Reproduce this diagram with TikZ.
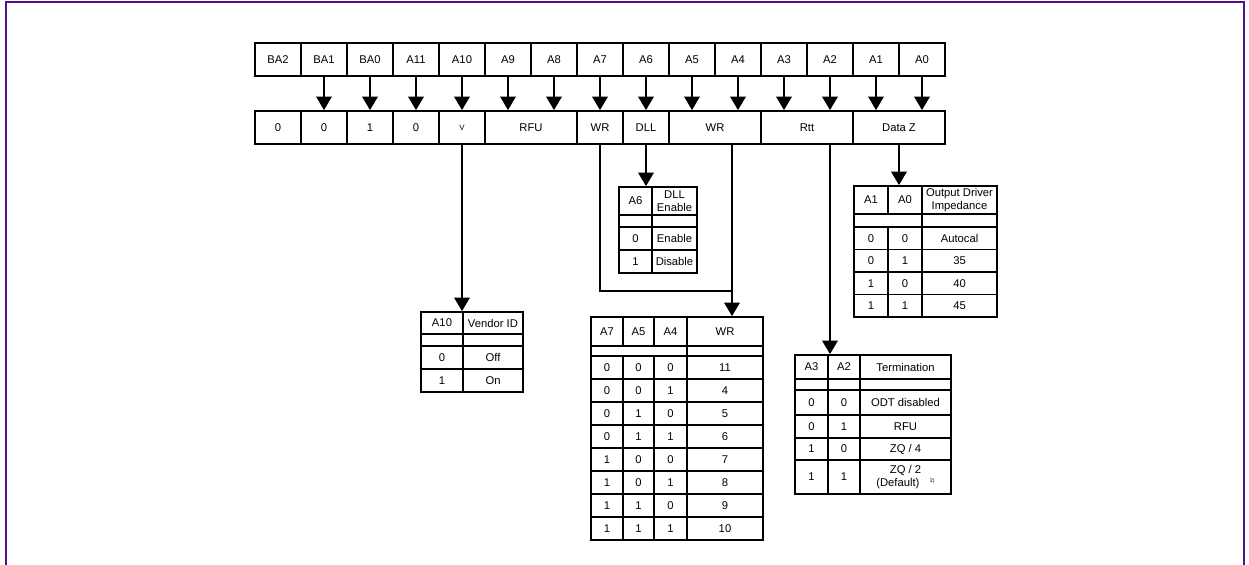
\documentclass[tikz,border=0pt]{standalone}
\usepackage{fontspec}
\setmainfont{Liberation Sans}
\usetikzlibrary{arrows.meta}
\definecolor{framepurple}{RGB}{84,16,140}

% one table cell from corner (x1,y1) to (x2,y2), in pixels
\newcommand{\tcell}[6]{%
\node[cell, minimum width={((#4)-(#2))*0.02cm}, minimum height={((#5)-(#3))*0.02cm}] (#1) at ({((#2)+(#4))/2},{((#3)+(#5))/2}) {#6};}

\begin{document}
\begin{tikzpicture}
[x=0.02cm,y=-0.02cm,line width=1pt,
cell/.style={draw,rectangle,inner sep=0pt,align=center,font=\fontsize{6.4}{7.4}\selectfont},
link/.style={line width=1pt},
arr/.style={line width=1pt,-{Triangle[width=0.31cm,length=0.27cm]}}]
\useasboundingbox (0,0) rectangle (1249,565);
\draw[framepurple,line width=1.2pt] (6,565) -- (6,2) -- (1244,2) -- (1244,565);

% address bits
\foreach \name/\lbl [count=\i from 0] in {ba2/BA2,ba1/BA1,ba0/BA0,a11/A11,a10/A10,a9/A9,a8/A8,a7/A7,a6/A6,a5/A5,a4/A4,a3/A3,a2/A2,a1/A1,a0/A0}
{\tcell{\name}{255+46*\i}{43}{301+46*\i}{76}{\lbl}}

% mode register fields
\foreach \name/\lbl/\xa/\xb in {s0/0/255/301,s1/0/301/347,s2/1/347/393,s3/0/393/439,rfu/RFU/485/577,wra/WR/577/623,dll/DLL/623/669,wrb/WR/669/761,rtt/Rtt/761/853,dataz/Data Z/853/945}
{\tcell{\name}{\xa}{111}{\xb}{144}{\lbl}}
\tcell{vend}{439}{111}{485}{144}{\fontsize{4.5}{5}\selectfont V}

\foreach \from/\to in {ba1/s1,ba0/s2,a11/s3,a10/vend,a9/rfu,a8/rfu,a7/wra,a6/dll,a5/wrb,a4/wrb,a3/rtt,a2/rtt,a1/dataz,a0/dataz}
\draw[arr] (\from.south) -- (\from.south |- \to.north);

% vendor ID
\tcell{vid0}{421}{312}{463}{334}{A10}
\tcell{vid1}{463}{312}{523}{334}{Vendor ID}
\tcell{vidx0}{421}{334}{463}{346}{}
\tcell{vidx1}{463}{334}{523}{346}{}
\foreach \a/\b [count=\r from 0] in {0/Off,1/On}{
\tcell{vida\r}{421}{346+23*\r}{463}{369+23*\r}{\a}
\tcell{vidb\r}{463}{346+23*\r}{523}{369+23*\r}{\b}
}

% DLL enable
\tcell{dlt0}{619}{187}{652}{215}{A6}
\tcell{dlt1}{652}{187}{697}{215}{DLL\\Enable}
\tcell{dltx0}{619}{215}{652}{227}{}
\tcell{dltx1}{652}{215}{697}{227}{}
\foreach \a/\b [count=\r from 0] in {0/Enable,1/Disable}{
\tcell{dlta\r}{619}{227+23*\r}{652}{250+23*\r}{\a}
\tcell{dltb\r}{652}{227+23*\r}{697}{250+23*\r}{\b}
}

% output driver impedance
\tcell{imp0}{854}{186}{888}{214}{A1}
\tcell{imp1}{888}{186}{922}{214}{A0}
\tcell{imp2}{922}{186}{997}{214}{Output Driver\\Impedance}
\tcell{impx0}{854}{214}{922}{227}{}
\tcell{impx1}{922}{214}{997}{227}{}
\foreach \a/\b/\c [count=\r from 0] in {0/0/Autocal,0/1/35,1/0/40,1/1/45}{
\tcell{impa\r}{854}{227+22.5*\r}{888}{249.5+22.5*\r}{\a}
\tcell{impb\r}{888}{227+22.5*\r}{922}{249.5+22.5*\r}{\b}
\tcell{impc\r}{922}{227+22.5*\r}{997}{249.5+22.5*\r}{\c}
}

% write recovery
\tcell{wrt0}{591}{317}{623}{346}{A7}
\tcell{wrt1}{623}{317}{654}{346}{A5}
\tcell{wrt2}{654}{317}{687}{346}{A4}
\tcell{wrt3}{687}{317}{763}{346}{WR}
\tcell{wrtx0}{591}{346}{687}{356}{}
\tcell{wrtx1}{687}{346}{763}{356}{}
\foreach \a/\b/\c/\d [count=\r from 0] in {0/0/0/11,0/0/1/4,0/1/0/5,0/1/1/6,1/0/0/7,1/0/1/8,1/1/0/9,1/1/1/10}{
\tcell{wrta\r}{591}{356+23*\r}{623}{379+23*\r}{\a}
\tcell{wrtb\r}{623}{356+23*\r}{654}{379+23*\r}{\b}
\tcell{wrtc\r}{654}{356+23*\r}{687}{379+23*\r}{\c}
\tcell{wrtd\r}{687}{356+23*\r}{763}{379+23*\r}{\d}
}

% termination
\tcell{term0}{795}{355}{828}{379}{A3}
\tcell{term1}{828}{355}{860}{379}{A2}
\tcell{term2}{860}{355}{951}{379}{Termination}
\tcell{termx0}{795}{379}{828}{390}{}
\tcell{termx1}{828}{379}{860}{390}{}
\tcell{termx2}{860}{379}{951}{390}{}
\foreach \a/\b/\c/\ya/\yb [count=\r from 0] in {0/0/ODT disabled/390/415,0/1/RFU/415/438,1/0/{ZQ / 4}/438/460}{
\tcell{terma\r}{795}{\ya}{828}{\yb}{\a}
\tcell{termb\r}{828}{\ya}{860}{\yb}{\b}
\tcell{termc\r}{860}{\ya}{951}{\yb}{\c}
}
\tcell{terma3}{795}{460}{828}{494}{1}
\tcell{termb3}{828}{460}{860}{494}{1}
\tcell{termc3}{860}{460}{951}{494}{ZQ / 2\\(Default)\hspace{6pt}\raisebox{2pt}{\fontsize{3}{3}\selectfont 2)}}

% field decodes
\coordinate (wrjoin) at (732,291);
\draw[arr] (vend.south) -- (vend.south |- vid0.north);
\draw[arr] (dll.south) -- (dll.south |- dlt0.north);
\draw[link] (wra.south) |- (wrjoin);
\draw[arr] (wrb.south -| wrjoin) -- (wrjoin |- wrt3.north);
\draw[arr] (rtt.south -| a2) -- (a2 |- term1.north);
\draw[arr] (dataz.south) -- (dataz.south |- imp1.north);
\end{tikzpicture}
\end{document}
